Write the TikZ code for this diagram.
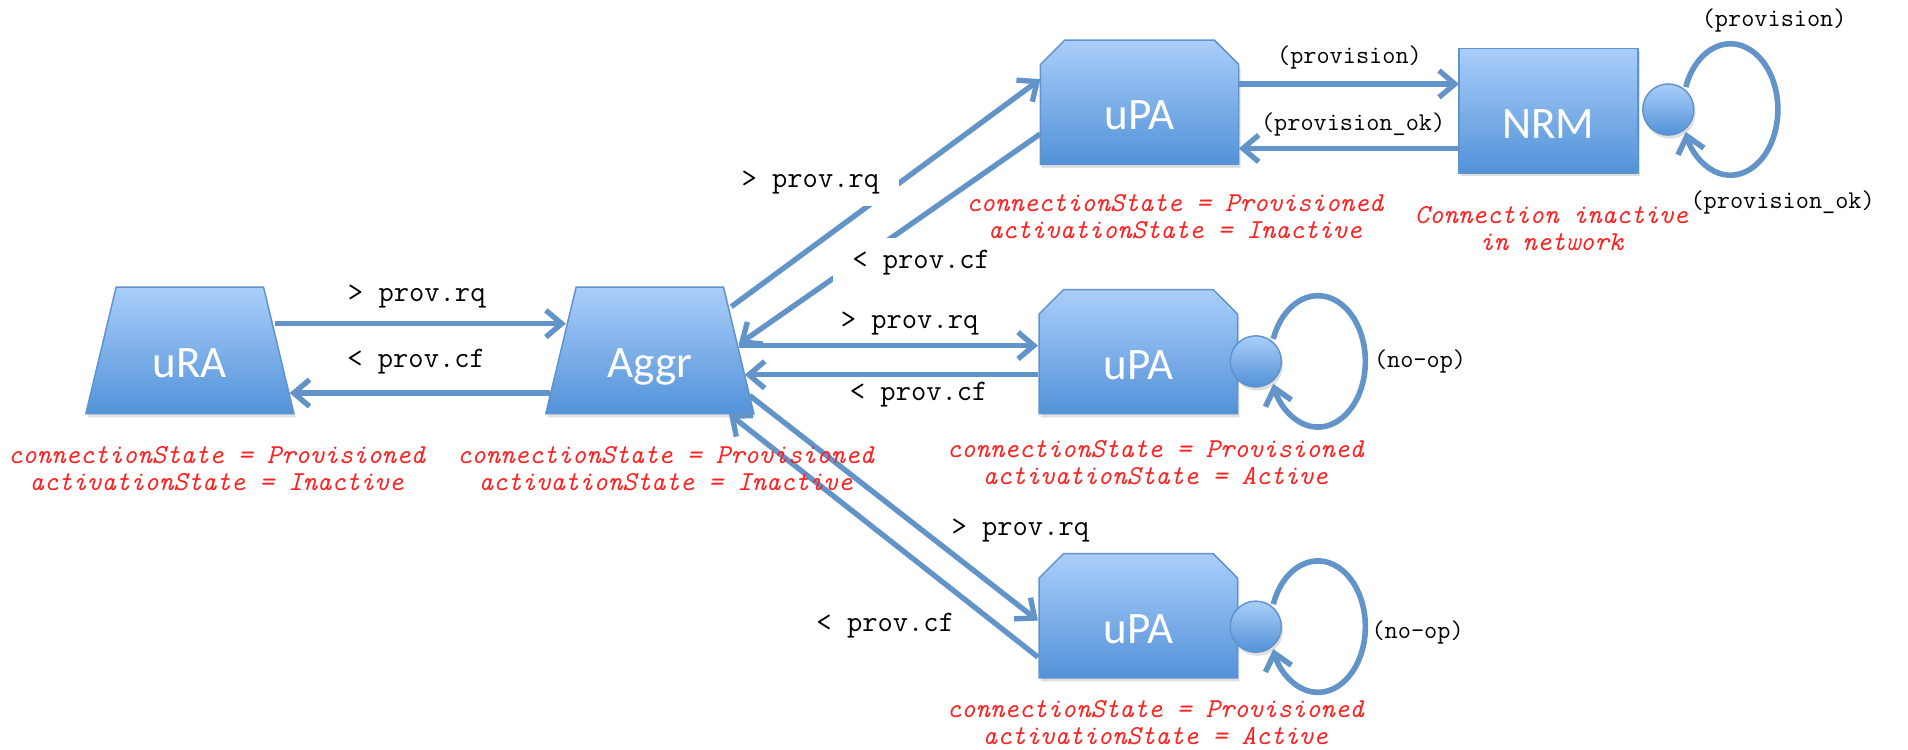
\documentclass[tikz,border=0pt]{standalone}
\usepackage{fontspec}
\newfontfamily\nodefont{Carlito}
\usetikzlibrary{arrows.meta,shapes.geometric,shapes.misc,shadows,calc}
\definecolor{arrc}{RGB}{99,148,201}
\definecolor{topc}{RGB}{170,206,250}
\definecolor{botc}{RGB}{82,146,216}
\definecolor{edgec}{RGB}{96,146,206}
\definecolor{redt}{RGB}{255,32,32}
\begin{document}
\begin{tikzpicture}[x=1pt,y=-1pt,
  fillbase/.style={top color=topc,bottom color=botc,draw=edgec,line width=1.2pt,
    drop shadow={shadow xshift=1.5pt,shadow yshift=-3pt,opacity=0.25}},
  bigtext/.style={text=white,font=\nodefont\fontsize{37}{40}\selectfont,
    text height=45pt,text depth=0pt,inner sep=0pt},
  trap/.style={fillbase,bigtext,trapezium,trapezium left angle=61,
    trapezium right angle=61,trapezium stretches body,
    minimum width=171pt,minimum height=104pt},
  chbox/.style={fillbase,bigtext,chamfered rectangle,
    chamfered rectangle corners={north west,north east},
    chamfered rectangle xsep=11pt,chamfered rectangle ysep=9pt,
    minimum width=163pt,minimum height=102pt},
  rbox/.style={fillbase,bigtext,rectangle,minimum width=147pt,minimum height=102pt},
  knob/.style={fillbase,circle,minimum size=42pt,inner sep=0pt},
  msg/.style={-{Straight Barb[length=13pt,width=22pt]},draw=arrc,line width=4.4pt},
  loopar/.style={-{Straight Barb[length=13pt,width=22pt]},draw=arrc,line width=4.6pt},
  lbl/.style={font=\ttfamily\fontsize{24.4}{26}\selectfont,inner sep=0pt},
  slbl/.style={font=\ttfamily\fontsize{21}{24}\selectfont,inner sep=0pt},
  wlbl/.style={lbl,fill=white,inner xsep=16pt,inner ysep=10pt},
  state/.style={font=\ttfamily\itshape\fontsize{22.5}{22}\selectfont,text=redt,
    align=center,inner sep=0pt}
]
\useasboundingbox (0,0) rectangle (1568,616.3);

% shapes
\node[trap] (ura) at (156,288) {uRA};
\node[trap] (aggr) at (534,288) {Aggr};
\node[chbox] (upa1) at (936.5,84) {uPA};
\node[chbox] (upa2) at (935.5,289) {uPA};
\node[chbox] (upa3) at (935.5,506) {uPA};
\node[rbox] (nrm) at (1272.5,91) {NRM};
\node[knob] (nrmc) at (1371,90) {};
\node[knob] (upa2c) at (1032,297) {};
\node[knob] (upa3c) at (1032,515) {};

% messages
\draw[msg] ($(ura.center)+(70,-22)$) -- ($(aggr.center)+(-69,-22)$);
\draw[msg] ($(aggr.center)+(-82,35)$) -- ($(ura.center)+(82,35)$);
\draw[msg] ($(aggr.center)+(67,-36)$) -- ($(upa1.center)+(-81.5,-19)$);
\draw[msg] ($(upa1.center)+(-81.5,26)$) -- ($(aggr.center)+(73,-5)$);
\draw[msg] ($(aggr.center)+(73,-4)$) -- ($(upa2.center)+(-82.5,-5)$);
\draw[msg] ($(upa2.center)+(-82.5,19)$) -- ($(aggr.center)+(78,20)$);
\draw[msg] ($(aggr.center)+(82,37)$) -- ($(upa3.center)+(-82.5,4)$);
\draw[msg] ($(upa3.center)+(-82.5,34)$) -- ($(aggr.center)+(65,52)$);
\draw[msg] ($(upa1.center)+(81.5,-15)$) -- ($(nrm.center)+(-73.5,-22)$);
\draw[msg] ($(nrm.center)+(-73.5,31)$) -- ($(upa1.center)+(81.5,38)$);

% self loops
\draw[loopar] ($(nrmc.center)+(14.4,-18.5)$) arc[start angle=160,end angle=-160,x radius=39pt,y radius=54pt];
\draw[loopar] ($(upa2c.center)+(14.4,-18.5)$) arc[start angle=160,end angle=-160,x radius=39pt,y radius=54pt];
\draw[loopar] ($(upa3c.center)+(14.4,-18.5)$) arc[start angle=160,end angle=-160,x radius=39pt,y radius=54pt];

% message labels
\node[lbl] (l1) at (342.5,244) {> prov.rq};
\node[lbl] (l2) at (342,297) {< prov.cf};
\node[wlbl] (l3) at (666,150) {> prov.rq};
\node[wlbl] (l4) at (757,216) {< prov.cf};
\node[lbl] (l5) at (747.5,266) {> prov.rq};
\node[lbl] (l6) at (755,324) {< prov.cf};
\node[lbl] (l7) at (838.5,436) {> prov.rq};
\node[lbl] (l8) at (727.5,514) {< prov.cf};
\node[slbl] (l9) at (1109,47) {(provision)};
\node[slbl] (l10) at (1112,102) {(provision\_ok)};
\node[slbl] (l11) at (1458,17) {(provision)};
\node[slbl] (l12) at (1465,166) {(provision\_ok)};
\node[slbl] (l13) at (1167,297) {(no-op)};
\node[slbl] (l14) at (1165,520) {(no-op)};

% state notes
\node[state] (s1) at (178,385) {connectionState = Provisioned\\activationState = Inactive};
\node[state] (s2) at (547,385) {connectionState = Provisioned\\activationState = Inactive};
\node[state] (s3) at (965.5,178) {connectionState = Provisioned\\activationState = Inactive};
\node[state] (s4) at (1275,188) {Connection inactive\\in network};
\node[state] (s5) at (949.5,380) {connectionState = Provisioned\\activationState = Active};
\node[state] (s6) at (949.5,594) {connectionState = Provisioned\\activationState = Active};
\end{tikzpicture}
\end{document}
